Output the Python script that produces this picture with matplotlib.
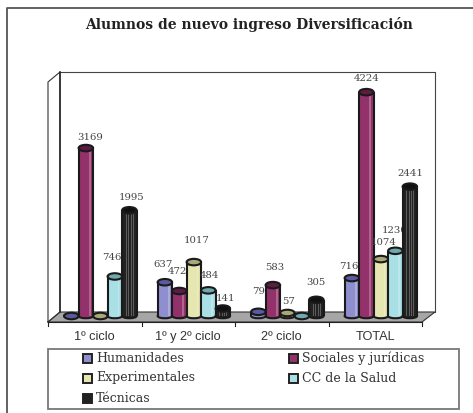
import matplotlib
matplotlib.use('Agg')
import matplotlib.pyplot as plt
from matplotlib.patches import Ellipse, Polygon, Rectangle

W, H = 473, 413

categories = ['1º ciclo', '1º y 2º ciclo', '2º ciclo', 'TOTAL']
series = ['Humanidades', 'Sociales y jurídicas', 'Experimentales', 'CC de la Salud', 'Técnicas']
humanidades = [0, 637, 79, 716]
sociales = [3169, 472, 583, 4224]
experimentales = [0, 1017, 57, 1074]
salud = [746, 484, 0, 1230]
tecnicas = [1995, 141, 305, 2441]
values = [humanidades, sociales, experimentales, salud, tecnicas]
colors = ['#8f8fd0', '#93316a', '#e6e6b0', '#a8e0e6', '#222222']
top_colors = ['#5a5aa0', '#5e1c44', '#a8a878', '#70a8b0', '#111111']
# label offsets in px from the bar top, (category, series): (dx, dy up)
offsets = {(0, 1): (4, 11), (0, 3): (-3, 19), (0, 4): (2, 13),
           (1, 0): (-2, 18), (1, 1): (-2, 19), (1, 2): (3, 22), (1, 3): (1, 15), (1, 4): (3, 10),
           (2, 0): (0, 20), (2, 1): (2, 18), (2, 2): (1, 11), (2, 4): (0, 17),
           (3, 0): (-3, 12), (3, 1): (0, 14), (3, 2): (3, 17), (3, 3): (-1, 20), (3, 4): (0, 13)}

plt.rcParams['font.family'] = ['DejaVu Serif']
fig = plt.figure(figsize=(W / 100, H / 100), dpi=100)

# background layer in pixels, y down
bg = fig.add_axes([0, 0, 1, 1], zorder=0)
bg.set_xlim(0, W)
bg.set_ylim(H, 0)
bg.axis('off')
bg.plot([7, 7, 473], [H, 8, 8], color='#555555', lw=1.3)
bg.add_patch(Polygon([(48, 322), (60, 312), (435, 312), (422, 322)], fc='#a6a6a6', ec='#333333', lw=0.8))
bg.plot([48, 48, 60, 60, 48], [322, 82, 72, 312, 322], color='#333333', lw=0.8)
bg.plot([60, 435, 435], [72, 72, 312], color='#444444', lw=0.8)
bg.plot([60, 60], [72, 312], color='#222222', lw=1.1)
bg.plot([48, 422], [322, 322], color='#222222', lw=0.8)
for i in range(5):
    x = 48 + i * 93.5
    bg.plot([x, x], [322, 326], color='#222222', lw=0.8)
bg.text(249, 25, 'Alumnos de nuevo ingreso Diversificación', ha='center', va='center',
        fontsize=10, fontweight='bold', color='#222222')

# legend
bg.add_patch(Rectangle((48, 349), 411, 60, fc='white', ec='#777777', lw=1.3))
leg_pos = [(83, 358), (289, 358), (83, 378), (289, 378), (83, 398)]
for name, c, (x, y) in zip(series, colors, leg_pos):
    bg.add_patch(Rectangle((x, y - 4.5), 9, 9, fc=c, ec='#222222', lw=1.4))
    bg.text(x + 13, y, name, va='center', fontsize=9, color='#333333')

# bars, y scale fixed so that 0 is at pixel 316 and 4224 at pixel 92
ax = fig.add_axes([48 / W, 1 - 316 / H, 374 / W, 244 / H], zorder=1)
ax.set_xlim(0, 4)
ax.set_ylim(0, 4604)
ax.patch.set_alpha(0)
ax.set_xticks([0.5, 1.5, 2.5, 3.5])
ax.set_xticklabels(categories, family='Liberation Sans', fontsize=9.2, color='#333333')
ax.set_yticks([])
ax.tick_params(axis='x', length=0, pad=11)
for s in ax.spines.values():
    s.set_visible(False)

bw = 0.155
step = 0.155
ell_h = 6.5 * 4604 / 244
base_h = 4.5 * 4604 / 244
ec = '#1a1a1a'
for j, (vals, c, tc) in enumerate(zip(values, colors, top_colors)):
    for i, v in enumerate(vals):
        x = i + 0.56 + (j - 2) * step
        z = 3 + j
        ax.add_patch(Ellipse((x, 0), bw, base_h, fc=c, ec=ec, lw=1.5, zorder=z, clip_on=False))
        ax.add_patch(Rectangle((x - bw / 2, 0), bw, v, fc=c, lw=0, zorder=z))
        ax.plot([x - bw / 2] * 2, [0, v], color=ec, lw=1.5, zorder=z, solid_capstyle='butt')
        ax.plot([x + bw / 2] * 2, [0, v], color=ec, lw=1.5, zorder=z, solid_capstyle='butt')
        if j != 4:
            ax.add_patch(Rectangle((x + bw * 0.2, 0), bw * 0.12, v, fc='#ffffff', alpha=0.25, lw=0, zorder=z))
        else:
            for dx in (-0.25, -0.08, 0.08, 0.25):
                ax.plot([x + dx * bw] * 2, [0, v], color='#777777', lw=0.5, zorder=z)
        ax.add_patch(Ellipse((x, v), bw, ell_h, fc=tc, ec=ec, lw=1.5, zorder=z, clip_on=False))
        if v > 0:
            dx, dy = offsets[(i, j)]
            ax.annotate(str(v), (x, v), xytext=(dx * 0.72, dy * 0.72), textcoords='offset points',
                        ha='center', va='center', fontsize=7.3, color='#444444', zorder=z + 0.5)

fig.savefig('out.png', dpi=100)
